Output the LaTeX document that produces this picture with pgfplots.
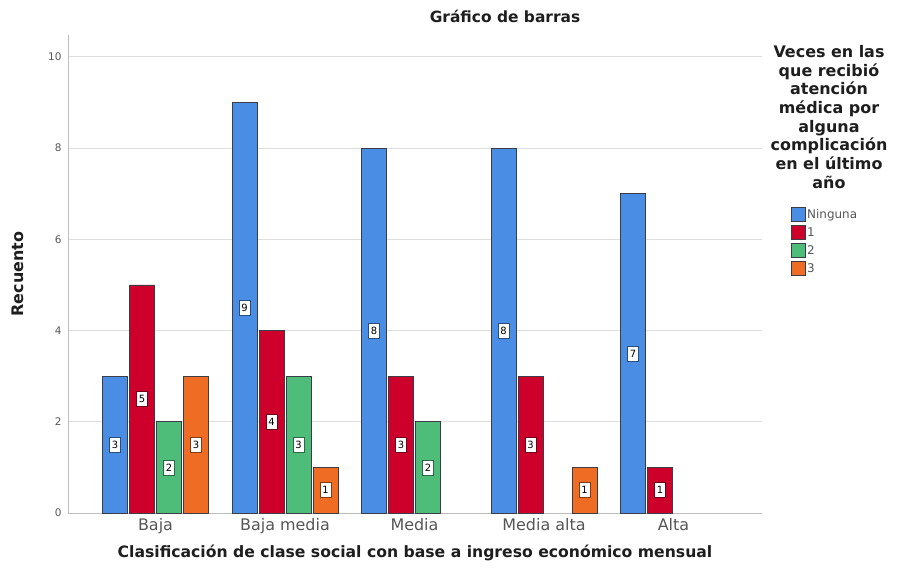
\documentclass[border=0pt]{standalone}
\usepackage{pgfplots}
\pgfplotsset{compat=1.18}
\usepackage{pgfplotstable}
\usepackage{fontspec}
\setmainfont{DejaVu Sans}

\definecolor{cBlue}{RGB}{74,141,228}
\definecolor{cRed}{RGB}{204,0,42}
\definecolor{cGreen}{RGB}{78,189,122}
\definecolor{cOrange}{RGB}{238,108,36}
\definecolor{cEdge}{RGB}{60,60,70}
\definecolor{cAxis}{RGB}{190,190,190}
\definecolor{cGrid}{RGB}{222,222,222}
\definecolor{cTick}{RGB}{85,85,85}
\definecolor{cText}{RGB}{30,30,30}

% Recuento por clase social (0 = Baja ... 4 = Alta)
\pgfplotstableread{
cat v
0 3
1 9
2 8
3 8
4 7
}\tNinguna
\pgfplotstableread{
cat v
0 5
1 4
2 3
3 3
4 1
}\tUno
\pgfplotstableread{
cat v
0 2
1 3
2 2
}\tDos
\pgfplotstableread{
cat v
0 3
1 1
3 1
}\tTres

\pgfplotsset{
  /pgf/number format/assume math mode=true,
  countbar/.style={draw=cEdge, line width=0.6pt, fill=#1, bar shift=0pt, bar width=0.193},
  countlabel/.style={sharp plot, draw=none, mark=none, forget plot,
    point meta=explicit,
    nodes near coords={\pgfmathprintnumber{\pgfplotspointmeta}},
    every node near coord/.style={anchor=center, fill=white, draw=#1!55!black,
      line width=0.6pt, inner sep=1bp, minimum height=15bp, minimum width=11bp,
      font=\fontsize{10}{11}\selectfont, text=black}},
}

\begin{document}
\begin{tikzpicture}
\path[use as bounding box] (0,0) rectangle (897bp,-581bp);
\begin{axis}[
  at={(68bp,-513bp)}, anchor=south west,
  scale only axis, width=694bp, height=478bp,
  xmin=-0.6757, xmax=4.6834, ymin=0, ymax=10.48,
  ybar,
  axis x line*=bottom, axis y line*=left,
  axis line style={draw=cAxis, line width=1pt},
  xtick={0,1,2,3,4},
  xticklabels={Baja, Baja media, Media, Media alta, Alta},
  ytick={0,2,4,6,8,10},
  major tick length=0pt,
  ymajorgrids, grid style={draw=cGrid, line width=0.9pt},
  xticklabel style={font=\fontsize{16}{18}\selectfont, text=cTick, yshift=-2bp},
  yticklabel style={font=\fontsize{10.5}{12}\selectfont, text=cTick, xshift=-3bp},
  title={Gráfico de barras},
  every axis title/.style={at={(axis description cs:0.6297,1.0397)}, anchor=center,
    font=\bfseries\fontsize{15.5}{17}\selectfont, text=cText},
  xlabel={Clasificación de clase social con base a ingreso económico mensual},
  ylabel={Recuento},
  every axis x label/.style={at={(axis description cs:0.5,-0.0837)}, anchor=center,
    font=\bfseries\fontsize{15.7}{18}\selectfont, text=cText},
  every axis y label/.style={at={(axis description cs:-0.072,0.5)}, anchor=center, rotate=90,
    font=\bfseries\fontsize{16}{18}\selectfont, text=cText},
  legend style={at={(axis description cs:1.0418,0.6402)}, anchor=north west,
    draw=none, fill=none, inner sep=0pt, row sep=3.5bp,
    font=\fontsize{12}{14}\selectfont, text=cTick,
    nodes={inner sep=1.5bp}},
  legend cell align=left,
  legend image code/.code={\draw[#1, line width=0.5pt] (0bp,-7bp) rectangle (14bp,7bp);},
]
\addplot[countbar=cBlue]   table[x expr=\thisrow{cat}-0.3127, y=v] {\tNinguna};
\addplot[countbar=cRed]    table[x expr=\thisrow{cat}-0.1042, y=v] {\tUno};
\addplot[countbar=cGreen]  table[x expr=\thisrow{cat}+0.1042, y=v] {\tDos};
\addplot[countbar=cOrange] table[x expr=\thisrow{cat}+0.3127, y=v] {\tTres};
\legend{Ninguna, 1, 2, 3}

% etiquetas de recuento a media altura de cada barra
\addplot[countlabel=cBlue]   table[x expr=\thisrow{cat}-0.3127, y expr=\thisrow{v}/2, meta=v] {\tNinguna};
\addplot[countlabel=cRed]    table[x expr=\thisrow{cat}-0.1042, y expr=\thisrow{v}/2, meta=v] {\tUno};
\addplot[countlabel=cGreen]  table[x expr=\thisrow{cat}+0.1042, y expr=\thisrow{v}/2, meta=v] {\tDos};
\addplot[countlabel=cOrange] table[x expr=\thisrow{cat}+0.3127, y expr=\thisrow{v}/2, meta=v] {\tTres};
\end{axis}
\node[align=center, font=\bfseries\fontsize{16}{18.7}\selectfont, text=cText]
  at (829bp,-117bp) {Veces en las\\que recibió\\atención\\médica por\\alguna\\complicación\\en el último\\año};
\end{tikzpicture}
\end{document}
